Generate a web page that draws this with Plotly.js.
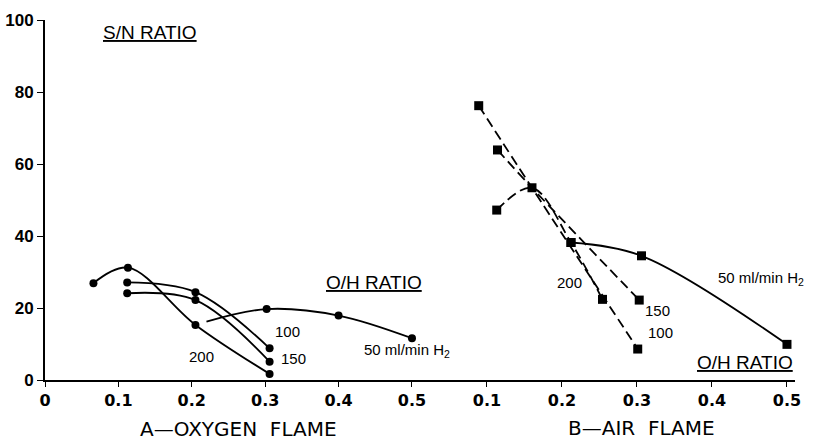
<!DOCTYPE html>
<html>
<head>
<meta charset="utf-8">
<script src="https://cdn.plot.ly/plotly-3.0.1.min.js"></script>
<style>html,body{margin:0;padding:0;background:#fff;}#chart{width:823px;height:443px;}</style>
</head>
<body>
<div id="chart"></div>
<script>
// ---- A: oxygen flame (O/H ratio vs S/N ratio) ----
const oxy200_x = [0.066, 0.113, 0.205, 0.306];
const oxy200_y = [26.9, 31.2, 15.3, 1.7];
const oxy150_x = [0.112, 0.205, 0.306];
const oxy150_y = [24.1, 22.2, 5.1];
const oxy100_x = [0.112, 0.205, 0.306];
const oxy100_y = [27.1, 24.4, 8.8];
const oxy50_x  = [0.22, 0.302, 0.40, 0.50];
const oxy50_y  = [16.2, 19.7, 17.9, 11.6];
const oxy50_mark = [false, true, true, true];

// ---- B: air flame ----
const air100_x = [0.089, 0.160, 0.301];
const air100_y = [76.2, 53.4, 8.6];
const air100_mark = [true, false, true];
const air150_x = [0.114, 0.160, 0.303];
const air150_y = [63.9, 53.4, 22.2];
const air150_mark = [true, false, true];
const air200_x = [0.113, 0.160, 0.212, 0.254];
const air200_y = [47.2, 53.4, 38.2, 22.4];
const air50_x  = [0.212, 0.306, 0.50];
const air50_y  = [38.2, 34.5, 9.9];

const yTicks = [0, 20, 40, 60, 80, 100];
const xTicksA = [0, 0.1, 0.2, 0.3, 0.4, 0.5];
const xTicksB = [0.1, 0.2, 0.3, 0.4, 0.5];

function pick(arr, flags){ return flags ? arr.filter((v,i)=>flags[i]) : arr; }

function series(x, y, flags, xa, symbol, size, dash){
  const line = {x:x, y:y, xaxis:xa, yaxis:'y', type:'scatter', mode:'lines',
    line:{color:'#000', width:1.8, shape:'spline', smoothing:1, dash:dash||'solid'},
    cliponaxis:false, showlegend:false, hoverinfo:'skip'};
  const mk = {x:pick(x, flags), y:pick(y, flags), xaxis:xa, yaxis:'y', type:'scatter', mode:'markers',
    marker:{symbol:symbol, color:'#000', size:size, opacity:1},
    cliponaxis:false, showlegend:false, hoverinfo:'skip'};
  return [line, mk];
}

const DASH = '10px,5px';
const data = [].concat(
  series(oxy200_x, oxy200_y, null, 'x', 'circle', 8),
  series(oxy150_x, oxy150_y, null, 'x', 'circle', 8),
  series(oxy100_x, oxy100_y, null, 'x', 'circle', 8),
  series(oxy50_x, oxy50_y, oxy50_mark, 'x', 'circle', 8),
  series(air100_x, air100_y, air100_mark, 'x2', 'square', 9, DASH),
  series(air150_x, air150_y, air150_mark, 'x2', 'square', 9, DASH),
  series(air200_x, air200_y, null, 'x2', 'square', 9, DASH),
  series(air50_x, air50_y, null, 'x2', 'square', 9, 'solid')
);

const tickFontX = {family:'DejaVu Sans', size:16, color:'#000', weight:'bold'};
const lblFont = {family:'Liberation Sans', size:15, color:'#000'};
const hdrFont = {family:'Liberation Sans', size:19, color:'#000'};
const ttlFont = {family:'DejaVu Sans', size:20, color:'#000'};

const axisCommon = {showline:true, linecolor:'#000', linewidth:2, ticks:'outside', ticklen:5,
  tickcolor:'#000', showgrid:false, zeroline:false, tickfont:tickFontX, anchor:'y'};

const layout = {
  width:823, height:443,
  margin:{l:45, r:28, t:20, b:63},
  paper_bgcolor:'#fff', plot_bgcolor:'#fff',
  showlegend:false,
  xaxis:Object.assign({domain:[0, 0.4893], range:[0, 0.5], tickvals:xTicksA, ticktext:xTicksA.map(String)}, axisCommon),
  xaxis2:Object.assign({domain:[0.4893, 1], range:[0, 0.5107], tickvals:xTicksB, ticktext:xTicksB.map(String)}, axisCommon),
  yaxis:{range:[0, 100], tickvals:yTicks, ticktext:yTicks.map(String),
    showline:true, linecolor:'#000', linewidth:2, ticks:'outside', ticklen:6, tickcolor:'#000',
    showgrid:false, zeroline:false,
    tickfont:{family:'Liberation Sans', size:17, color:'#000', weight:'bold'}},
  annotations:[
    {xref:'x', yref:'paper', x:0.263, y:-0.136, yanchor:'middle', text:'A\u2014OXYGEN  FLAME', showarrow:false, font:ttlFont},
    {xref:'x2', yref:'paper', x:0.306, y:-0.132, yanchor:'middle', text:'B\u2014AIR  FLAME', showarrow:false, font:ttlFont},
    {xref:'x', yref:'y', x:0.143, y:96.4, text:'<u>S/N RATIO</u>', showarrow:false, font:hdrFont},
    {xref:'x', yref:'y', x:0.448, y:27.2, text:'<u>O/H RATIO</u>', showarrow:false, font:hdrFont},
    {xref:'x', yref:'y', x:0.33, y:13.6, text:'100', showarrow:false, font:lblFont},
    {xref:'x', yref:'y', x:0.339, y:6.1, text:'150', showarrow:false, font:lblFont},
    {xref:'x', yref:'y', x:0.213, y:6.4, text:'200', showarrow:false, font:lblFont},
    {xref:'x', yref:'y', x:0.432, y:8.1, xanchor:'left', text:'50 ml/min H<sub>2</sub>', showarrow:false, font:lblFont},
    {xref:'x2', yref:'y', x:0.210, y:27.2, text:'200', showarrow:false, font:lblFont},
    {xref:'x2', yref:'y', x:0.327, y:19.2, text:'150', showarrow:false, font:lblFont},
    {xref:'x2', yref:'y', x:0.331, y:13.1, text:'100', showarrow:false, font:lblFont},
    {xref:'x2', yref:'y', x:0.405, y:28.1, xanchor:'left', text:'50 ml/min H<sub>2</sub>', showarrow:false, font:lblFont},
    {xref:'x2', yref:'y', x:0.444, y:5.0, text:'<u>O/H RATIO</u>', showarrow:false, font:hdrFont}
  ]
};

Plotly.newPlot('chart', data, layout, {staticPlot:true, displayModeBar:false});
</script>
</body>
</html>
